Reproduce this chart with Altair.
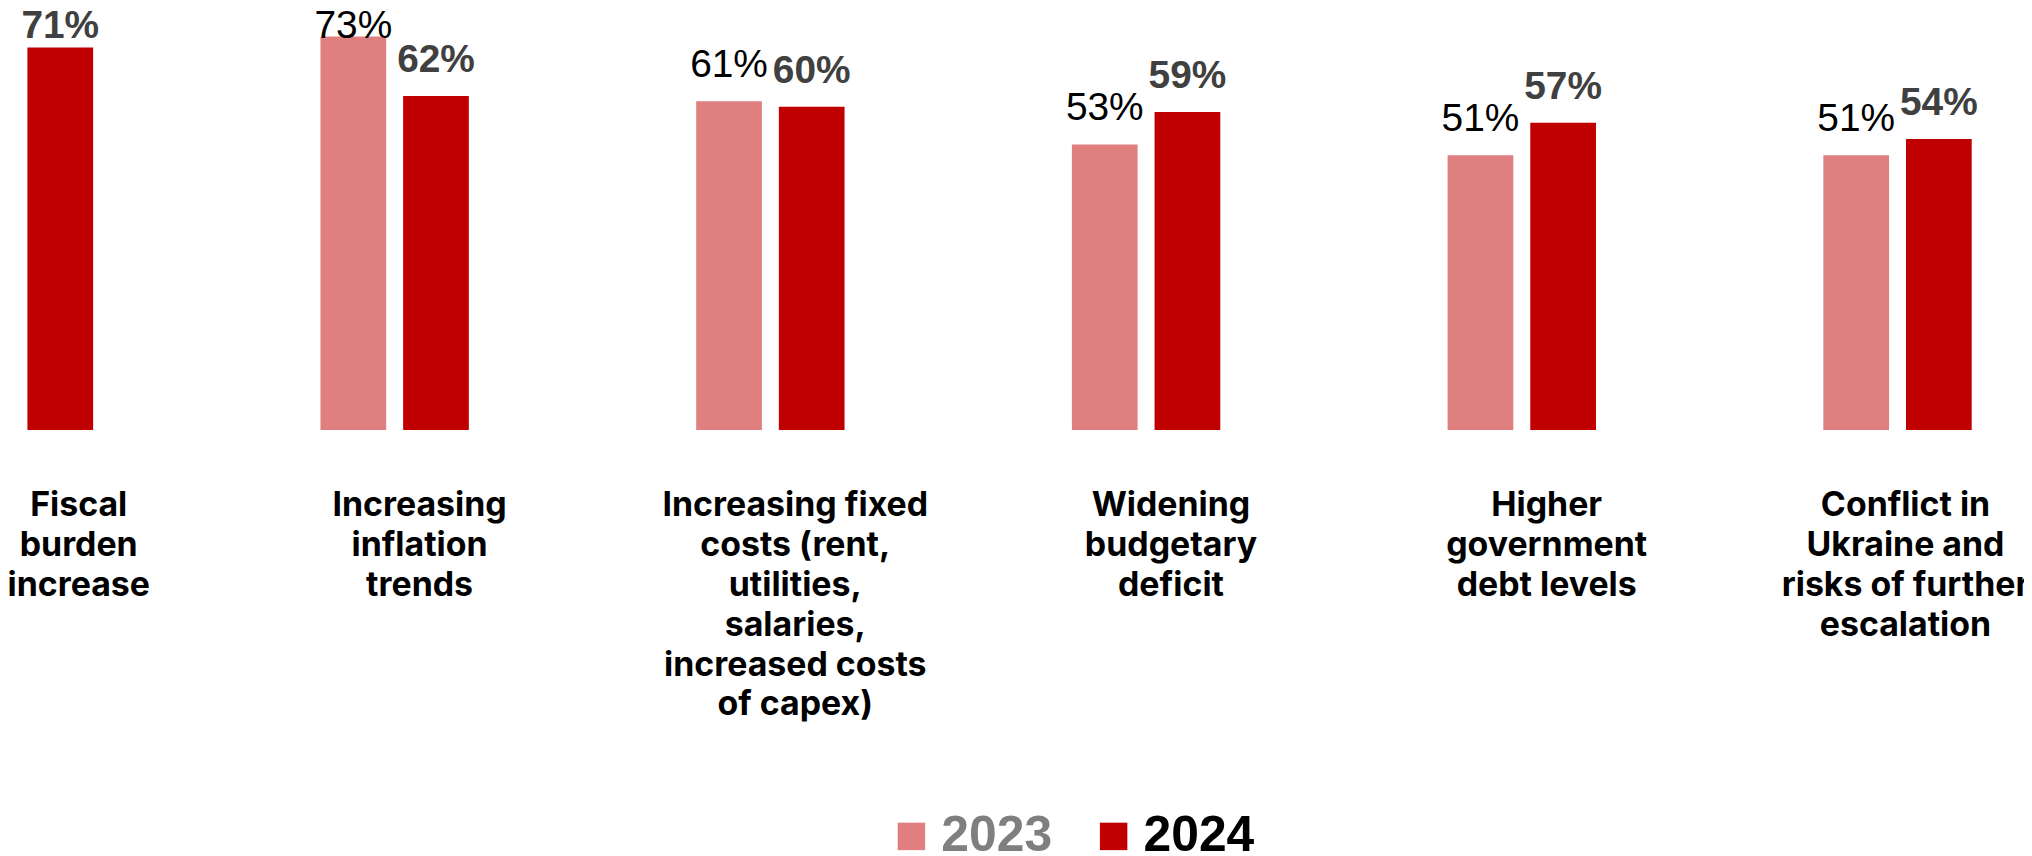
import altair as alt
import pandas as pd

# ---- data ----
categories = [
    "Fiscal|burden|increase",
    "Increasing|inflation|trends",
    "Increasing fixed|costs (rent,|utilities,|salaries,|increased costs|of capex)",
    "Widening|budgetary|deficit",
    "Higher|government|debt levels",
    "Conflict in|Ukraine and|risks of further|escalation",
]
values_2023 = [None, 73, 61, 53, 51, 51]
values_2024 = [71, 62, 60, 59, 57, 54]
years = ["2023", "2024"]
colors = ["#E07F7F", "#C00000"]

rows = []
for cat, v23, v24 in zip(categories, values_2023, values_2024):
    if v23 is not None:
        rows.append({"category": cat, "year": "2023", "value": v23})
    if v24 is not None:
        rows.append({"category": cat, "year": "2024", "value": v24})
df = pd.DataFrame(rows)

y_scale = alt.Scale(domain=[0, 78])
x_enc = alt.X(
    "category:N",
    sort=categories,
    scale=alt.Scale(range=[-72, 1980], paddingInner=0.56, paddingOuter=0),
    axis=alt.Axis(
        title=None,
        domain=False,
        ticks=False,
        labelAngle=0,
        labelFont="Inter",
        labelFontSize=34,
        labelFontWeight="bold",
        labelColor="#000000",
        labelPadding=59,
        labelBaseline="top",
        labelLineHeight=40,
        labelLimit=0,
        labelOverlap=False,
        labelExpr="split(datum.label, '|')",
        labelOffset={"expr": "datum.index == 0 ? 60 : (datum.index == 1 ? 8 : 25)"},
    ),
)
xoff_enc = alt.XOffset(
    "year:N",
    scale=alt.Scale(domain=years, paddingInner=0.205, paddingOuter=0.1025),
)

base = alt.Chart(df).encode(x=x_enc, xOffset=xoff_enc)

bars = base.mark_bar().encode(
    y=alt.Y("value:Q", scale=y_scale, axis=None),
    color=alt.Color(
        "year:N",
        scale=alt.Scale(domain=years, range=colors),
        legend=alt.Legend(
            title=None,
            orient="none",
            legendX=882,
            legendY=805,
            direction="horizontal",
            symbolType="square",
            symbolSize=760,
            symbolStrokeWidth=0,
            labelFont="Liberation Sans",
            labelFontSize=50,
            labelFontWeight="bold",
            labelColor=alt.ExprRef("datum.label == '2023' ? '#7F7F7F' : '#000000'"),
            labelOffset=5,
            columnPadding=36,
            padding=0,
            offset=0,
            labelLimit=0,
        ),
    ),
)

def value_labels(year, weight, color):
    return (
        base.transform_filter(f"datum.year == '{year}'")
        .transform_calculate(pos="min(datum.value + 4.44, 72.7)", label="datum.value + '%'")
        .mark_text(
            font="Liberation Sans",
            fontSize=39,
            fontWeight=weight,
            color=color,
            baseline="alphabetic",
            align="center",
        )
        .encode(y=alt.Y("pos:Q", scale=y_scale, axis=None), text="label:N")
    )

chart = (
    alt.layer(bars, value_labels("2023", "normal", "#000000"), value_labels("2024", "bold", "#404040"))
    .properties(
        width=2024,
        height=422,
        autosize=alt.AutoSizeParams(type="none"),
        padding={"left": 0, "top": 0, "right": 0, "bottom": 426},
        background="white",
    )
    .configure_view(stroke=None)
)

chart.save("out.html", embed_options={"renderer": "svg", "actions": False})
